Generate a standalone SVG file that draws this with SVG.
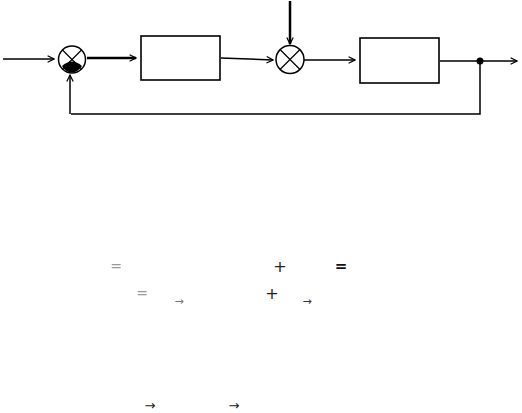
<svg xmlns="http://www.w3.org/2000/svg" width="522" height="413" viewBox="0 0 522 413">
<style>
.ln{stroke:#000;fill:none;stroke-width:1.5}
.th{stroke:#000;fill:none;stroke-width:2.5}
.bx{stroke:#000;fill:#fff;stroke-width:1.6}
.t{font-family:"DejaVu Sans","Liberation Sans",sans-serif;text-anchor:middle}
</style>
<defs>
<marker id="ah" viewBox="0 0 10 10" refX="9" refY="5" markerWidth="8" markerHeight="8" markerUnits="userSpaceOnUse" orient="auto">
<path d="M1,1 L9,5 L1,9" fill="none" stroke="#000" stroke-width="1.5"/>
</marker>
</defs>
<rect width="522" height="413" fill="#fff"/>
<g id="connectors">
<line class="ln" x1="3" y1="59" x2="54" y2="59" marker-end="url(#ah)"/>
<line class="th" x1="87" y1="58" x2="136" y2="58" marker-end="url(#ah)"/>
<line class="ln" x1="221" y1="58" x2="273" y2="60" marker-end="url(#ah)"/>
<line class="th" x1="290" y1="1" x2="290" y2="44" marker-end="url(#ah)"/>
<line class="ln" x1="304" y1="60" x2="355" y2="60" marker-end="url(#ah)"/>
<line class="ln" x1="440" y1="61" x2="517" y2="61" marker-end="url(#ah)"/>
<polyline class="ln" points="480,61 480,114 71,114"/>
<line class="ln" x1="70" y1="114" x2="70" y2="75" marker-end="url(#ah)"/>
</g>
<g id="sum1">
<circle cx="72" cy="59.5" r="13.5" fill="#fff" stroke="#000" stroke-width="1.5"/>
<path d="M62.5,50 L81.5,69 M81.5,50 L62.5,69" stroke="#000" stroke-width="1.2"/>
<path d="M62,66 Q72,57 82,66 Q78,72 72,72.5 Q65,72 62,66 Z" fill="#000"/>
</g>
<g id="block1"><rect class="bx" x="141" y="36" width="79" height="44"/></g>
<g id="sum2">
<circle cx="290" cy="59.5" r="14" fill="#fff" stroke="#000" stroke-width="1.5"/>
<path d="M280,49.5 L300,69.5 M300,49.5 L280,69.5" stroke="#000" stroke-width="1.2"/>
</g>
<g id="block2"><rect class="bx" x="360" y="38" width="79" height="45"/></g>
<g id="node"><circle cx="480" cy="61" r="3.5" fill="#000"/></g>
<g id="texts">
<text class="t" x="116" y="271" font-size="14" fill="#999">=</text>
<text class="t" x="280" y="272" font-size="16" fill="#222">+</text>
<text class="t" x="341" y="271" font-size="15" font-weight="bold" fill="#111">=</text>
<text class="t" x="142" y="298" font-size="14" fill="#999">=</text>
<text class="t" x="179" y="305" font-size="11" fill="#777">→</text>
<text class="t" x="272" y="299" font-size="16" fill="#222">+</text>
<text class="t" x="307" y="305" font-size="11" fill="#333">→</text>
<text class="t" x="150" y="410" font-size="13" fill="#222">→</text>
<text class="t" x="234" y="410" font-size="13" fill="#222">→</text>
</g>
</svg>
